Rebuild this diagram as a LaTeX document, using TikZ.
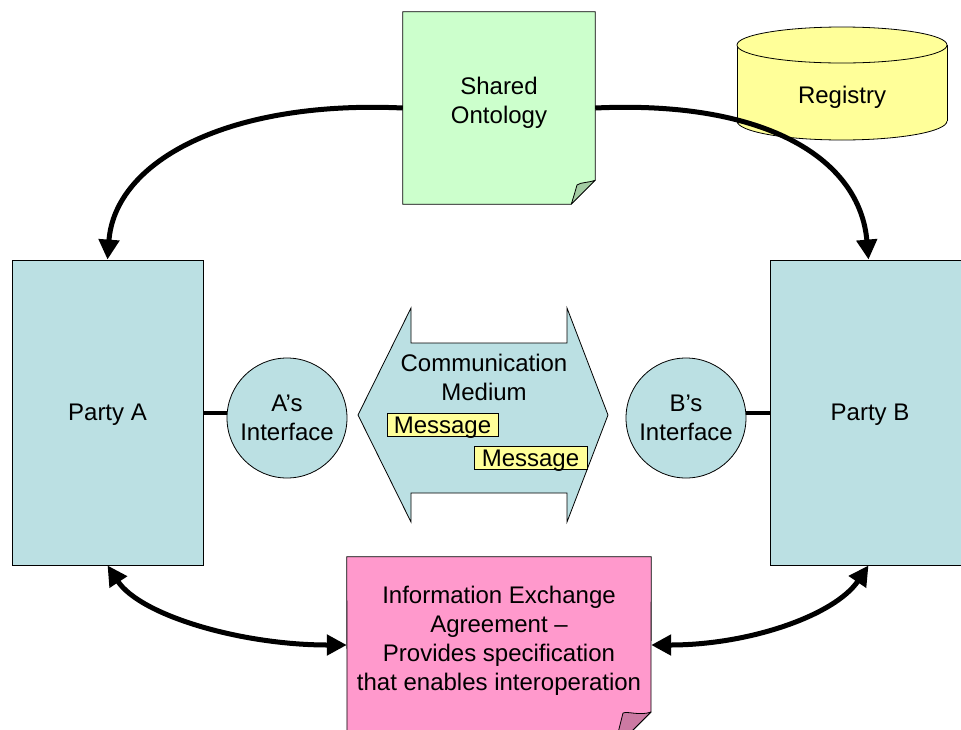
\documentclass[tikz,border=0pt]{standalone}
\usepackage{fontspec}
\setmainfont{Liberation Sans}
\usetikzlibrary{arrows.meta}

\definecolor{partyblue}{RGB}{187,224,227}
\definecolor{ontogreen}{RGB}{204,255,204}
\definecolor{flapgreen}{RGB}{163,204,163}
\definecolor{regyellow}{RGB}{255,255,153}
\definecolor{notepink}{RGB}{255,153,204}
\definecolor{flappink}{RGB}{204,122,163}

\tikzset{
  outline/.style={draw=black, line width=0.8pt},
  partybox/.style={outline, fill=partyblue, minimum width=191pt, minimum height=305pt, inner sep=0pt,
                   text depth=0pt},
  iface/.style={circle, outline, fill=partyblue, minimum size=120pt, inner sep=0pt, align=center},
  msgbox/.style={outline, fill=regyellow, minimum width=111pt, minimum height=23pt, inner sep=0pt,
                 text height=20pt, text depth=3pt},
  plain/.style={inner sep=0pt, minimum size=0pt},
  flow/.style={line width=5pt, -{Triangle[length=20pt,width=20pt]}},
  biflow/.style={line width=5pt, {Triangle[length=20pt,width=20pt]}-{Triangle[length=20pt,width=20pt]}},
  link/.style={line width=4pt},
}

\begin{document}
\begin{tikzpicture}[x=1pt, y=-1pt, font=\fontsize{24}{29}\selectfont]
  \useasboundingbox (0,0) rectangle (961,729);
  \clip (0,0) rectangle (961,729);

  % parties
  \node[partybox] (partyA) at (107.5,412.5) {Party A};
  \node[partybox, minimum width=197pt] (partyB) at (868.5,412.5) {};
  \node[plain] (partyBlabel) at (870,415) {Party B};

  % interfaces
  \node[iface] (aif) at (287,418) {A’s\\Interface};
  \node[iface] (bif) at (686,418) {B’s\\Interface};
  \draw[link] (partyA.east) -- (partyA.east -| aif.west);
  \draw[link] (partyB.west) -- (partyB.west -| bif.east);

  % communication medium (double-headed block arrow)
  \filldraw[outline, fill=partyblue]
    (358,415) -- (411,308) -- (411,343) -- (567,343) -- (567,308) -- (608,415)
    -- (567,522) -- (567,493) -- (411,493) -- (411,522) -- cycle;
  \node[plain, align=center] (medium) at (484,377) {Communication\\Medium};
  \node[msgbox] (msg1) at (442.5,425) {Message};
  \node[msgbox, minimum width=113pt] (msg2) at (530.5,457.5) {Message};

  % shared ontology note with folded corner
  \node[minimum width=192pt, minimum height=192pt, inner sep=0pt] (onto) at (499,108) {};
  \filldraw[outline, fill=ontogreen]
    (onto.north west) -- (onto.north east) -- ([yshift=24pt]onto.south east)
    -- ([xshift=-24pt]onto.south east) -- (onto.south west) -- cycle;
  \filldraw[outline, fill=flapgreen, line join=round]
    ([yshift=24pt]onto.south east) .. controls (588,183) and (581,182) .. (577,185)
    .. controls (575,192) and (573,199) .. ([xshift=-24pt]onto.south east) -- cycle;
  \node[plain, align=center] (ontolabel) at (499,103) {Shared\\Ontology};

  % registry cylinder
  \filldraw[outline, fill=regyellow] (842,121) ellipse [x radius=105pt, y radius=19pt];
  \fill[regyellow] (737,45) rectangle (947,121);
  \draw[outline] (737,45) -- (737,121) (947,45) -- (947,121);
  \filldraw[outline, fill=regyellow] (842,45) ellipse [x radius=105pt, y radius=18pt];
  \node[plain] (registry) at (842,97) {Registry};

  % information exchange agreement note with folded corner
  \node[minimum width=304pt, minimum height=176pt, inner sep=0pt] (iea) at (499,645) {};
  \filldraw[outline, fill=notepink]
    (iea.north west) -- (iea.north east) -- (651,712) -- (614,749) -- (347,749) -- cycle;
  \filldraw[outline, fill=flappink, line join=round]
    (651,712) .. controls (640,716) and (628,711) .. (623,713)
    .. controls (620,725) and (617,737) .. (614,749) -- cycle;
  \node[plain, align=center] (iealabel) at (499,641)
    {Information Exchange\\Agreement –\\Provides specification\\that enables interoperation};

  % relationships
  \draw[flow] (onto.west) .. controls (230,100) and (115,160) .. (partyA.north);
  \draw[flow] (onto.east) .. controls (768,100) and (860,160) .. (partyB.north);
  \draw[biflow] (partyA.south) .. controls (140,615) and (240,645) .. (iea.west);
  \draw[biflow] (partyB.south) .. controls (835,615) and (750,645) .. (iea.east);
\end{tikzpicture}
\end{document}
